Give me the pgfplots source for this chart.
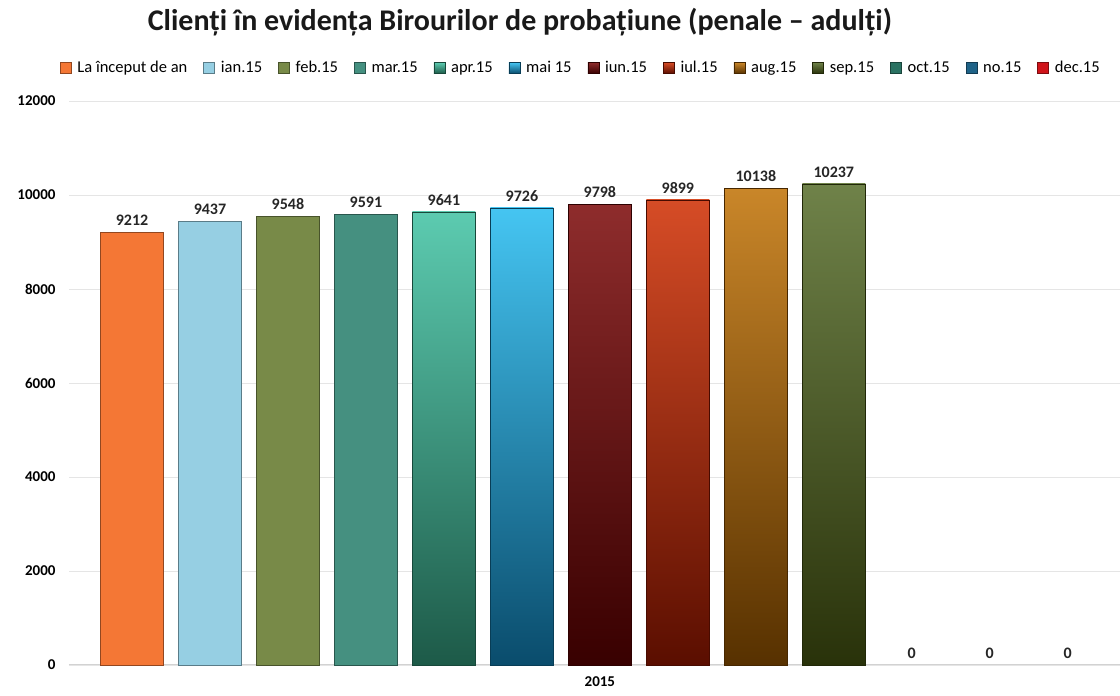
\documentclass[border=0pt]{standalone}
\usepackage{pgfplots}
\pgfplotsset{compat=1.18}
\usepackage{fontspec}
\setmainfont{Carlito}
\definecolor{c1}{HTML}{F47735}
\definecolor{c2}{HTML}{96CFE3}
\definecolor{c3}{HTML}{788A48}
\definecolor{c4}{HTML}{459080}
\definecolor{c5t}{HTML}{5CCBB0}\definecolor{c5b}{HTML}{1D5A48}
\definecolor{c6t}{HTML}{45C5F2}\definecolor{c6b}{HTML}{0A4C6C}
\definecolor{c7t}{HTML}{8E2C2C}\definecolor{c7b}{HTML}{380000}
\definecolor{c8t}{HTML}{D64C26}\definecolor{c8b}{HTML}{5A0E00}
\definecolor{c9t}{HTML}{C98629}\definecolor{c9b}{HTML}{573100}
\definecolor{c10t}{HTML}{6F8249}\definecolor{c10b}{HTML}{29320A}
\definecolor{c11}{HTML}{2A7262}
\definecolor{c12}{HTML}{1F6388}
\definecolor{c13}{HTML}{D0141A}
\begin{document}
\begin{tikzpicture}
\begin{axis}[
  scale only axis, width=1051pt, height=564pt,
  xmin=0.192, xmax=13.67, ymin=0, ymax=12000,
  ytick={0,2000,...,12000},
  scaled y ticks=false,
  xtick={7}, xticklabels={2015},
  ymajorgrids, grid style={draw=gray!20, line width=0.8pt},
  separate axis lines,
  axis x line*=bottom, axis y line*=left,
  y axis line style={draw=none},
  x axis line style={draw=gray!35, line width=1pt},
  major tick length=0pt,
  tick label style={font=\bfseries\fontsize{15}{15}\selectfont},
  /pgf/number format/assume math mode=true,
  /pgf/number format/set thousands separator={},
  /pgf/number format/fixed,
  yticklabel style={xshift=-10pt},
  xticklabel style={yshift=-8pt},
  ybar, bar width=63pt, bar shift=0pt,
  nodes near coords,
  nodes near coords style={font=\bfseries\fontsize{16}{16}\selectfont, text=black!85, yshift=3pt, /pgf/number format/assume math mode=true, /pgf/number format/set thousands separator={}},
  legend columns=-1,
  legend style={at={(0.487,1.0585)}, anchor=center, draw=none, fill=none,
    font=\fontsize{16.5}{16.5}\selectfont, column sep=4pt,
    /tikz/every even column/.append style={column sep=14pt}},
  legend image code/.code={\draw[#1, line width=0.5pt] (0pt,-5.5pt) rectangle (11pt,5.5pt);},
  clip=false,
]
\addplot[fill=c1, draw=c1!60!black] coordinates {(1,9212)};
\addplot[fill=c2, draw=c2!60!black] coordinates {(2,9437)};
\addplot[fill=c3, draw=c3!60!black] coordinates {(3,9548)};
\addplot[fill=c4, draw=c4!60!black] coordinates {(4,9591)};
\addplot[top color=c5t, bottom color=c5b, draw=c5b!80!black] coordinates {(5,9641)};
\addplot[top color=c6t, bottom color=c6b, draw=c6b!80!black] coordinates {(6,9726)};
\addplot[top color=c7t, bottom color=c7b, draw=c7b!80!black] coordinates {(7,9798)};
\addplot[top color=c8t, bottom color=c8b, draw=c8b!80!black] coordinates {(8,9899)};
\addplot[top color=c9t, bottom color=c9b, draw=c9b!80!black] coordinates {(9,10138)};
\addplot[top color=c10t, bottom color=c10b, draw=c10b!80!black] coordinates {(10,10237)};
\addplot[fill=none, draw=none, legend image code/.code={\draw[fill=c11, draw=c11!60!black, line width=0.5pt] (0pt,-5.5pt) rectangle (11pt,5.5pt);}] coordinates {(11,0)};
\addplot[fill=none, draw=none, legend image code/.code={\draw[fill=c12, draw=c12!60!black, line width=0.5pt] (0pt,-5.5pt) rectangle (11pt,5.5pt);}] coordinates {(12,0)};
\addplot[fill=none, draw=none, legend image code/.code={\draw[fill=c13, draw=c13!60!black, line width=0.5pt] (0pt,-5.5pt) rectangle (11pt,5.5pt);}] coordinates {(13,0)};
\legend{La început de an, ian.15, feb.15, mar.15, apr.15, mai 15, iun.15, iul.15, aug.15, sep.15, oct.15, no.15, dec.15}
\node[font=\bfseries\fontsize{30}{30}\selectfont, text=black!90] at (rel axis cs:0.429,1.14) {Clienți în evidența Birourilor de probațiune (penale – adulți)};
\end{axis}
\pgfresetboundingbox
\path[use as bounding box] (-69pt,-31pt) rectangle (1051pt,665pt);
\end{tikzpicture}
\end{document}
